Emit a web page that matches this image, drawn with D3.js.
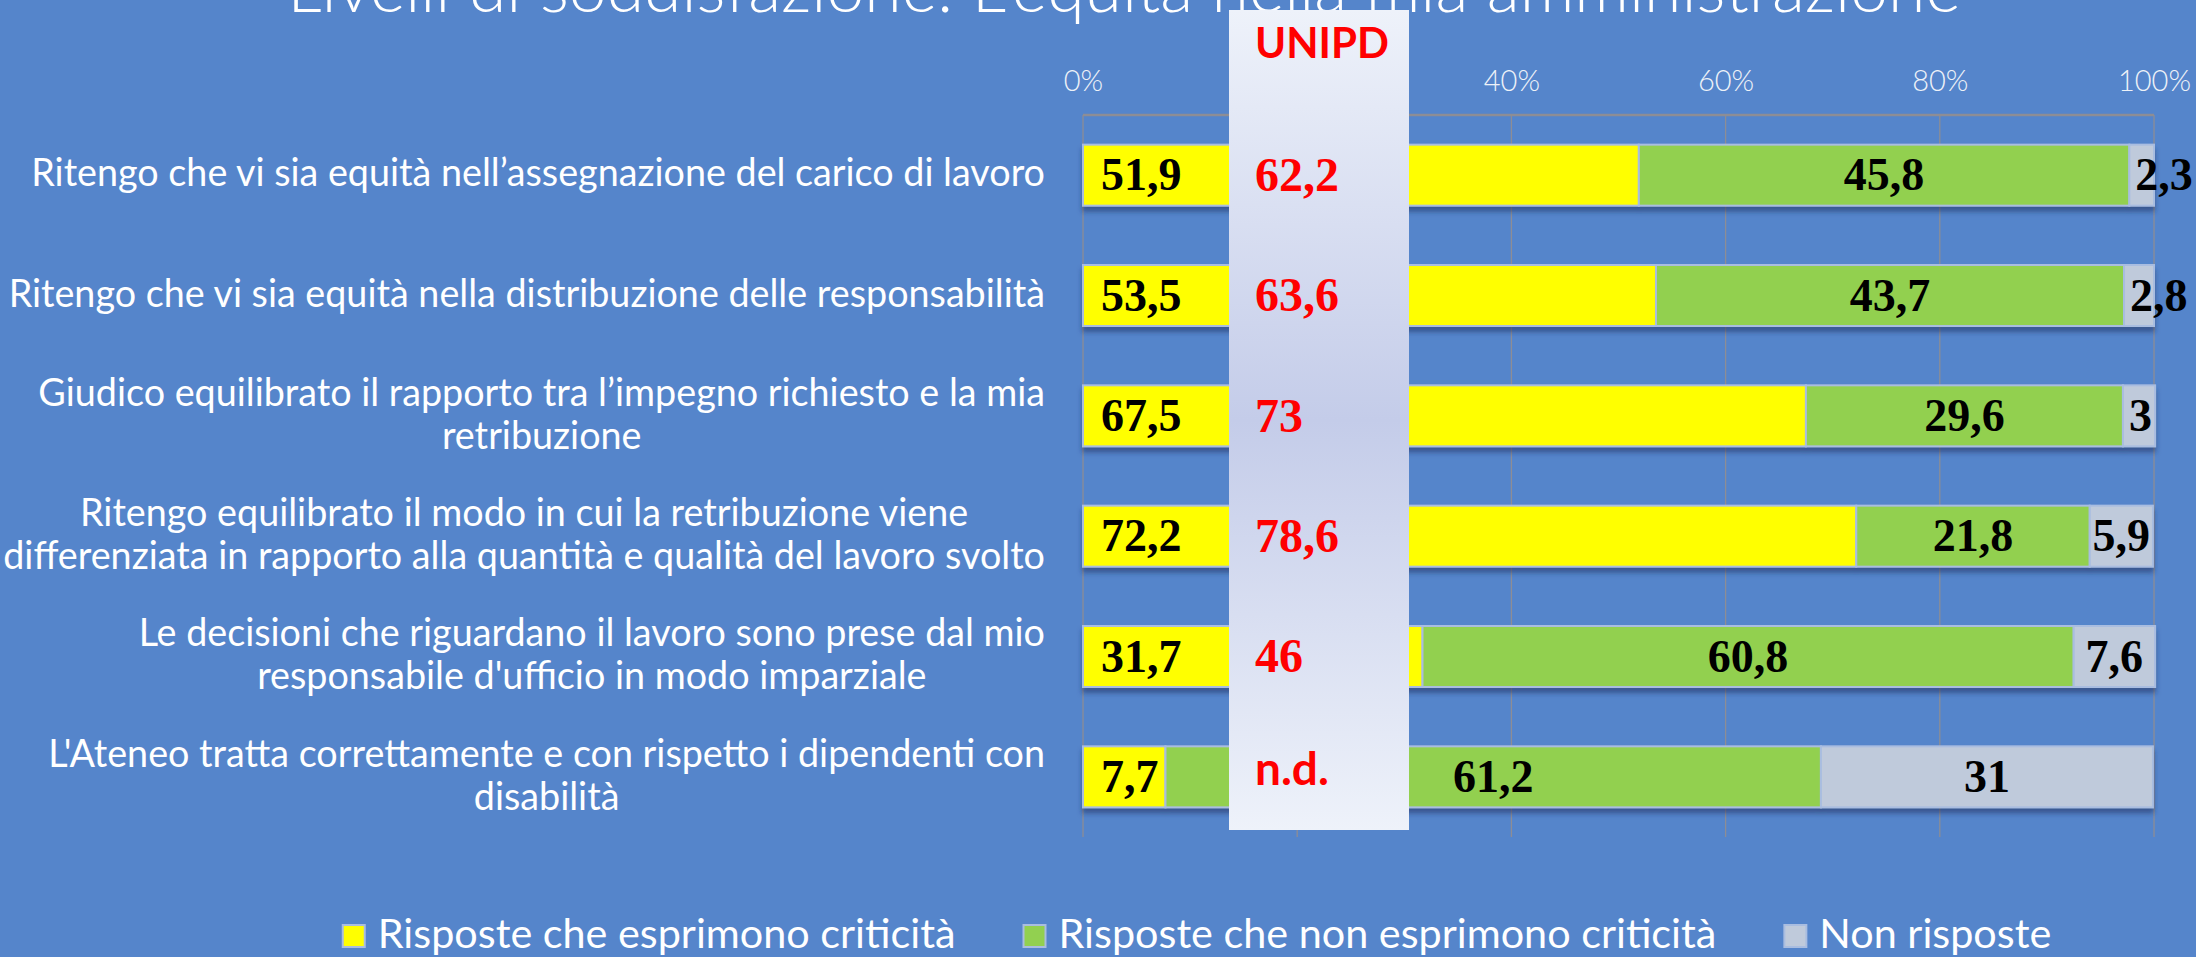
<!DOCTYPE html>
<html><head><meta charset="utf-8">
<script src="https://cdn.jsdelivr.net/npm/d3@7"></script>
<style>html,body{margin:0;padding:0;background:#5585cb;overflow:hidden}</style>
</head><body><svg id="c" width="2196" height="957"></svg>
<script>
// ---------- DATA ----------
const title = "Livelli di soddisfazione: L'equità nella mia amministrazione";
const categories = [
  ["Ritengo che vi sia equità nell’assegnazione del carico di lavoro"],
  ["Ritengo che vi sia equità nella distribuzione delle responsabilità"],
  ["Giudico equilibrato il rapporto tra l’impegno richiesto e la mia", "retribuzione"],
  ["Ritengo equilibrato il modo in cui la retribuzione viene", "differenziata in rapporto alla quantità e qualità del lavoro svolto"],
  ["Le decisioni che riguardano il lavoro sono prese dal mio", "responsabile d'ufficio in modo imparziale"],
  ["L'Ateneo tratta correttamente e con rispetto i dipendenti con", "disabilità"]
];
const seriesNames = ["Risposte che esprimono criticità", "Risposte che non esprimono criticità", "Non risposte"];
const critiche    = [51.9, 53.5, 67.5, 72.2, 31.7, 7.7];
const nonCritiche = [45.8, 43.7, 29.6, 21.8, 60.8, 61.2];
const nonRisposte = [2.3, 2.8, 3, 5.9, 7.6, 31];
const unipdLabel = "UNIPD";
const unipd = [62.2, 63.6, 73, 78.6, 46, null];
const tickValues = [0, 20, 40, 60, 80, 100];

// ---------- LAYOUT / STYLE ----------
const W = 2196, H = 957;
const colors = ["#FFFF00", "#92D050", "#BFCADB"];
const bg = "#5585cb";
const sansFont = "Lato, 'Open Sans', sans-serif";
const serifFont = "'Liberation Serif', 'DejaVu Serif', serif";
const plot = {left: 1083, right: 2154, top: 115, bottom: 837};
const panel = {x0: 1229, x1: 1409, y0: 10, y1: 830};

const locale = d3.formatLocale({decimal: ",", thousands: ".", grouping: [3], currency: ["", "€"]});
const fmt = locale.format(".1~f");

const svg = d3.select("#c");
svg.append("rect").attr("width", W).attr("height", H).attr("fill", bg);

// helper: font size so that text reaches a target width
function fitSize(text, base, targetW, weight) {
  const t = svg.append("text").attr("font-family", sansFont).attr("font-size", base).attr("font-weight", weight || "normal").text(text);
  const w = t.node().getComputedTextLength();
  t.remove();
  return base * targetW / w;
}

const defs = svg.append("defs");
const grad = defs.append("linearGradient").attr("id", "pg").attr("x1", 0).attr("y1", 0).attr("x2", 0).attr("y2", 1);
[[0, "#eef2fa"], [0.5, "#c4cce9"], [1, "#eef2fa"]].forEach(([o, c]) => grad.append("stop").attr("offset", o).attr("stop-color", c));
const sh = defs.append("filter").attr("id", "sh").attr("x", "-5%").attr("y", "-30%").attr("width", "110%").attr("height", "170%");
sh.append("feDropShadow").attr("dx", 0).attr("dy", 5).attr("stdDeviation", 2.5).attr("flood-color", "#1b3260").attr("flood-opacity", 0.55);

const names = categories.map(l => l.join(" "));
const x = d3.scaleLinear().domain([0, 100]).range([plot.left, plot.right]);
const y = d3.scaleBand().domain(names).range([plot.top, plot.bottom]).paddingInner(0.493).paddingOuter(0.2465);

// title
const titleSize = fitSize(title, 60, 1674, 300);
svg.append("text").attr("x", 1124).attr("y", 12).attr("text-anchor", "middle")
  .attr("font-family", sansFont).attr("font-weight", 300).attr("font-size", titleSize).attr("fill", "#ffffff").text(title);

// gridlines
svg.append("g").selectAll("line").data(tickValues).join("line")
  .attr("x1", d => x(d)).attr("x2", d => x(d)).attr("y1", plot.top).attr("y2", plot.bottom)
  .attr("stroke", "#8d8d95").attr("stroke-width", 1.3);
svg.append("line").attr("x1", plot.left).attr("x2", plot.right).attr("y1", plot.top).attr("y2", plot.top)
  .attr("stroke", "#8d8d95").attr("stroke-width", 2.5);

// tick labels (top axis)
const axis = d3.axisTop(x).tickValues(tickValues).tickFormat(d => d + "%").tickSize(0).tickPadding(0);
const ag = svg.append("g").attr("transform", `translate(0,${91})`).call(axis);
ag.select(".domain").remove();
ag.selectAll("text").attr("font-family", sansFont).attr("font-weight", 300).attr("font-size", 29).attr("fill", "#eef2f8").attr("dy", 0);

// stacked bars
const rows = names.map((n, i) => ({name: n, v: [critiche[i], nonCritiche[i], nonRisposte[i]]}));
const stack = d3.stack().keys([0, 1, 2]).value((d, k) => d.v[k]);
const stacked = stack(rows);
const barG = svg.append("g");
rows.forEach((r, i) => {
  const g = barG.append("g").attr("filter", "url(#sh)");
  stacked.forEach((s, k) => {
    const d = s[i];
    g.append("rect").attr("x", x(d[0])).attr("width", x(d[1]) - x(d[0]))
      .attr("y", y(r.name)).attr("height", y.bandwidth())
      .attr("fill", colors[k]).attr("stroke", "#a9bde0").attr("stroke-width", 2);
  });
});

// value labels
const numSize = 46;
stacked.forEach((s, k) => {
  s.forEach((d, i) => {
    const cy = y(rows[i].name) + y.bandwidth() / 2;
    let tx, anchor;
    const wdt = d[1] - d[0];
    if (k === 0) { tx = x(d[0]) + 18; anchor = "start"; }
    else if (wdt < 5) { tx = x(d[0]) + 6; anchor = "start"; }
    else { tx = x((d[0] + d[1]) / 2); anchor = "middle"; }
    svg.append("text").attr("x", tx).attr("y", cy + numSize * 0.33).attr("text-anchor", anchor)
      .attr("font-family", serifFont).attr("font-weight", "bold").attr("font-size", numSize)
      .attr("fill", "#000").text(fmt(rows[i].v[k]));
  });
});

// UNIPD panel
svg.append("rect").attr("x", panel.x0).attr("y", panel.y0).attr("width", panel.x1 - panel.x0).attr("height", panel.y1 - panel.y0)
  .attr("fill", "url(#pg)");
svg.append("text").attr("x", (panel.x0 + panel.x1) / 2 + 3).attr("y", 58).attr("text-anchor", "middle")
  .attr("font-family", sansFont).attr("font-weight", "bold").attr("font-size", 42).attr("fill", "#ff0000").text(unipdLabel);
const redSize = 48;
unipd.forEach((v, i) => {
  const cy = y(names[i]) + y.bandwidth() / 2;
  if (v === null) {
    svg.append("text").attr("x", panel.x0 + 26).attr("y", cy + 8).attr("font-family", sansFont).attr("font-weight", "bold")
      .attr("font-size", 46).attr("fill", "#ff0000").text("n.d.");
  } else {
    svg.append("text").attr("x", panel.x0 + 26).attr("y", cy + redSize * 0.33).attr("font-family", serifFont).attr("font-weight", "bold")
      .attr("font-size", redSize).attr("fill", "#ff0000").text(fmt(v));
  }
});

// category labels
const catSize = fitSize(categories[0][0], 33, 1014), lineH = 43;
categories.forEach((lines, i) => {
  const cy = y(names[i]) + y.bandwidth() / 2;
  const g = svg.append("g");
  const ts = lines.map((t, j) => g.append("text").attr("font-family", sansFont).attr("font-size", catSize).attr("fill", "#fff")
    .attr("text-anchor", "middle").attr("y", cy + (j - (lines.length - 1) / 2) * lineH + catSize * 0.3).text(t));
  const maxW = d3.max(ts, t => t.node().getComputedTextLength());
  ts.forEach(t => t.attr("x", 1045 - maxW / 2));
});

// legend
const legY = 936, legSize = fitSize(seriesNames[0], 34, 578), legGap = 68;
const lg = svg.append("g");
let lx = 0;
seriesNames.forEach((n, k) => {
  const g = lg.append("g").attr("transform", `translate(${lx},0)`);
  g.append("rect").attr("x", 0).attr("y", legY - 11).attr("width", 22).attr("height", 22).attr("fill", colors[k]).attr("stroke", "#a9bde0").attr("stroke-width", 2);
  const t = g.append("text").attr("x", 35).attr("y", legY + 12).attr("font-family", sansFont).attr("font-size", legSize).attr("fill", "#fff").text(n);
  lx += 35 + t.node().getComputedTextLength() + legGap;
});
const totalW = lx - legGap;
lg.attr("transform", `translate(${1197 - totalW / 2},0)`);
</script></body></html>
